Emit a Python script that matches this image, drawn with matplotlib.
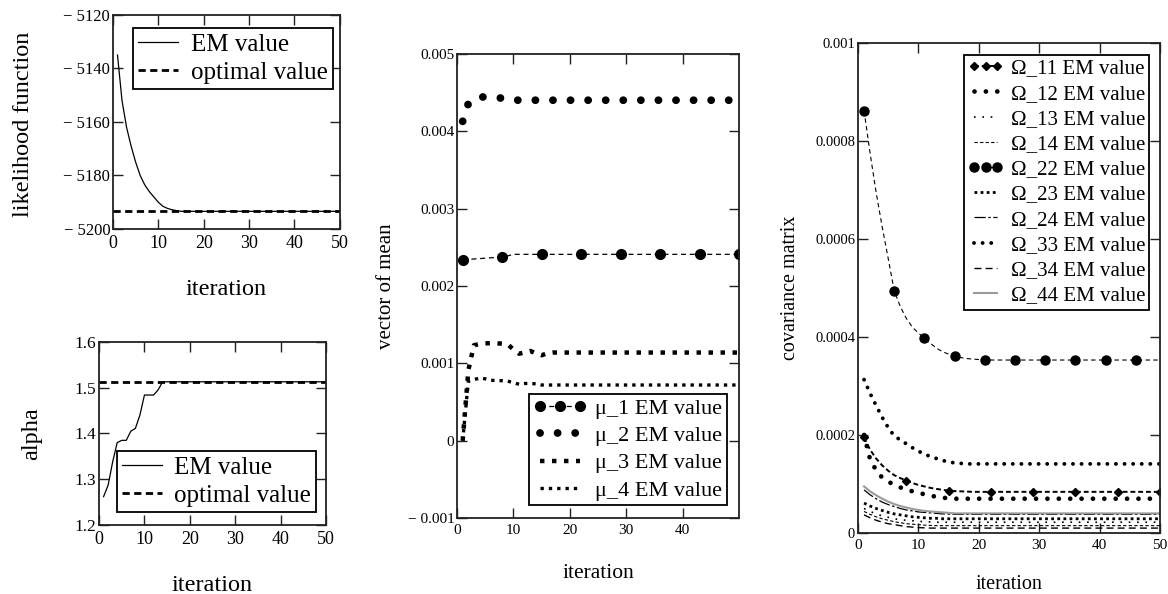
import matplotlib
matplotlib.use("Agg")
import matplotlib.pyplot as plt

plt.rcParams['font.family'] = ['Liberation Serif', 'DejaVu Serif']

# ---------------- data ----------------
iterations = list(range(1, 51))

likelihood_em = [
    -5135.0, -5152.0, -5162.0, -5169.0, -5175.0, -5180.0, -5183.5, -5186.0, -5188.0, -5190.0,
    -5191.5, -5192.3, -5192.8, -5193.1, -5193.4, -5193.4, -5193.4, -5193.4, -5193.4, -5193.4,
    -5193.4, -5193.4, -5193.4, -5193.4, -5193.4, -5193.4, -5193.4, -5193.4, -5193.4, -5193.4,
    -5193.4, -5193.4, -5193.4, -5193.4, -5193.4, -5193.4, -5193.4, -5193.4, -5193.4, -5193.4,
    -5193.4, -5193.4, -5193.4, -5193.4, -5193.4, -5193.4, -5193.4, -5193.4, -5193.4, -5193.4]
likelihood_opt = -5193.4

alpha_em = [
    1.262, 1.287, 1.338, 1.380, 1.385, 1.385, 1.405, 1.411, 1.440, 1.484,
    1.484, 1.484, 1.495, 1.513, 1.513, 1.513, 1.513, 1.513, 1.513, 1.513,
    1.513, 1.513, 1.513, 1.513, 1.513, 1.513, 1.513, 1.513, 1.513, 1.513,
    1.513, 1.513, 1.513, 1.513, 1.513, 1.513, 1.513, 1.513, 1.513, 1.513,
    1.513, 1.513, 1.513, 1.513, 1.513, 1.513, 1.513, 1.513, 1.513, 1.513]
alpha_opt = 1.513

mu1 = [
    2.340e-3, 2.345e-3, 2.350e-3, 2.355e-3, 2.360e-3, 2.365e-3, 2.370e-3, 2.374e-3, 2.390e-3, 2.410e-3,
    2.410e-3, 2.410e-3, 2.410e-3, 2.410e-3, 2.410e-3, 2.410e-3, 2.410e-3, 2.410e-3, 2.410e-3, 2.410e-3,
    2.410e-3, 2.410e-3, 2.410e-3, 2.410e-3, 2.410e-3, 2.410e-3, 2.410e-3, 2.410e-3, 2.410e-3, 2.410e-3,
    2.410e-3, 2.410e-3, 2.410e-3, 2.410e-3, 2.410e-3, 2.410e-3, 2.410e-3, 2.410e-3, 2.410e-3, 2.410e-3,
    2.410e-3, 2.410e-3, 2.410e-3, 2.410e-3, 2.410e-3, 2.410e-3, 2.410e-3, 2.410e-3, 2.410e-3, 2.410e-3]
mu2 = [
    4.130e-3, 4.360e-3, 4.420e-3, 4.445e-3, 4.445e-3, 4.440e-3, 4.435e-3, 4.430e-3, 4.415e-3, 4.405e-3,
    4.403e-3, 4.403e-3, 4.403e-3, 4.403e-3, 4.403e-3, 4.403e-3, 4.403e-3, 4.403e-3, 4.403e-3, 4.403e-3,
    4.403e-3, 4.403e-3, 4.403e-3, 4.403e-3, 4.403e-3, 4.403e-3, 4.403e-3, 4.403e-3, 4.403e-3, 4.403e-3,
    4.403e-3, 4.403e-3, 4.403e-3, 4.403e-3, 4.403e-3, 4.403e-3, 4.403e-3, 4.403e-3, 4.403e-3, 4.403e-3,
    4.403e-3, 4.403e-3, 4.403e-3, 4.403e-3, 4.403e-3, 4.403e-3, 4.403e-3, 4.403e-3, 4.403e-3, 4.403e-3]
mu3 = [
    0.0, 0.910e-3, 1.235e-3, 1.250e-3, 1.260e-3, 1.260e-3, 1.260e-3, 1.255e-3, 1.245e-3, 1.180e-3,
    1.125e-3, 1.140e-3, 1.160e-3, 1.130e-3, 1.105e-3, 1.130e-3, 1.140e-3, 1.140e-3, 1.140e-3, 1.140e-3,
    1.140e-3, 1.140e-3, 1.140e-3, 1.140e-3, 1.140e-3, 1.140e-3, 1.140e-3, 1.140e-3, 1.140e-3, 1.140e-3,
    1.140e-3, 1.140e-3, 1.140e-3, 1.140e-3, 1.140e-3, 1.140e-3, 1.140e-3, 1.140e-3, 1.140e-3, 1.140e-3,
    1.140e-3, 1.140e-3, 1.140e-3, 1.140e-3, 1.140e-3, 1.140e-3, 1.140e-3, 1.140e-3, 1.140e-3, 1.140e-3]
mu4 = [
    0.0, 0.770e-3, 0.790e-3, 0.810e-3, 0.800e-3, 0.780e-3, 0.780e-3, 0.775e-3, 0.770e-3, 0.750e-3,
    0.730e-3, 0.740e-3, 0.740e-3, 0.735e-3, 0.720e-3, 0.720e-3, 0.720e-3, 0.720e-3, 0.720e-3, 0.720e-3,
    0.720e-3, 0.720e-3, 0.720e-3, 0.720e-3, 0.720e-3, 0.720e-3, 0.720e-3, 0.720e-3, 0.720e-3, 0.720e-3,
    0.720e-3, 0.720e-3, 0.720e-3, 0.720e-3, 0.720e-3, 0.720e-3, 0.720e-3, 0.720e-3, 0.720e-3, 0.720e-3,
    0.720e-3, 0.720e-3, 0.720e-3, 0.720e-3, 0.720e-3, 0.720e-3, 0.720e-3, 0.720e-3, 0.720e-3, 0.720e-3]

cov11 = [
    1.95e-4, 1.70e-4, 1.52e-4, 1.38e-4, 1.27e-4, 1.18e-4, 1.12e-4, 1.07e-4, 1.02e-4, 0.98e-4,
    0.95e-4, 0.92e-4, 0.90e-4, 0.88e-4, 0.865e-4, 0.855e-4, 0.85e-4, 0.845e-4, 0.84e-4, 0.84e-4,
    0.84e-4, 0.84e-4, 0.84e-4, 0.84e-4, 0.84e-4, 0.84e-4, 0.84e-4, 0.84e-4, 0.84e-4, 0.84e-4,
    0.84e-4, 0.84e-4, 0.84e-4, 0.84e-4, 0.84e-4, 0.84e-4, 0.84e-4, 0.84e-4, 0.84e-4, 0.84e-4,
    0.84e-4, 0.84e-4, 0.84e-4, 0.84e-4, 0.84e-4, 0.84e-4, 0.84e-4, 0.84e-4, 0.84e-4, 0.84e-4]
cov12 = [
    2.00e-4, 1.50e-4, 1.28e-4, 1.13e-4, 1.05e-4, 0.98e-4, 0.93e-4, 0.89e-4, 0.85e-4, 0.82e-4,
    0.79e-4, 0.76e-4, 0.74e-4, 0.72e-4, 0.71e-4, 0.70e-4, 0.70e-4, 0.70e-4, 0.70e-4, 0.70e-4,
    0.70e-4, 0.70e-4, 0.70e-4, 0.70e-4, 0.70e-4, 0.70e-4, 0.70e-4, 0.70e-4, 0.70e-4, 0.70e-4,
    0.70e-4, 0.70e-4, 0.70e-4, 0.70e-4, 0.70e-4, 0.70e-4, 0.70e-4, 0.70e-4, 0.70e-4, 0.70e-4,
    0.70e-4, 0.70e-4, 0.70e-4, 0.70e-4, 0.70e-4, 0.70e-4, 0.70e-4, 0.70e-4, 0.70e-4, 0.70e-4]
cov13 = [
    0.50e-4, 0.44e-4, 0.39e-4, 0.35e-4, 0.32e-4, 0.29e-4, 0.27e-4, 0.26e-4, 0.25e-4, 0.24e-4,
    0.23e-4, 0.225e-4, 0.22e-4, 0.22e-4, 0.22e-4, 0.22e-4, 0.22e-4, 0.22e-4, 0.22e-4, 0.22e-4,
    0.22e-4, 0.22e-4, 0.22e-4, 0.22e-4, 0.22e-4, 0.22e-4, 0.22e-4, 0.22e-4, 0.22e-4, 0.22e-4,
    0.22e-4, 0.22e-4, 0.22e-4, 0.22e-4, 0.22e-4, 0.22e-4, 0.22e-4, 0.22e-4, 0.22e-4, 0.22e-4,
    0.22e-4, 0.22e-4, 0.22e-4, 0.22e-4, 0.22e-4, 0.22e-4, 0.22e-4, 0.22e-4, 0.22e-4, 0.22e-4]
cov14 = [
    0.44e-4, 0.38e-4, 0.33e-4, 0.29e-4, 0.26e-4, 0.23e-4, 0.21e-4, 0.19e-4, 0.18e-4, 0.17e-4,
    0.16e-4, 0.155e-4, 0.15e-4, 0.15e-4, 0.15e-4, 0.15e-4, 0.15e-4, 0.15e-4, 0.15e-4, 0.15e-4,
    0.15e-4, 0.15e-4, 0.15e-4, 0.15e-4, 0.15e-4, 0.15e-4, 0.15e-4, 0.15e-4, 0.15e-4, 0.15e-4,
    0.15e-4, 0.15e-4, 0.15e-4, 0.15e-4, 0.15e-4, 0.15e-4, 0.15e-4, 0.15e-4, 0.15e-4, 0.15e-4,
    0.15e-4, 0.15e-4, 0.15e-4, 0.15e-4, 0.15e-4, 0.15e-4, 0.15e-4, 0.15e-4, 0.15e-4, 0.15e-4]
cov22 = [
    8.62e-4, 7.75e-4, 6.95e-4, 6.25e-4, 5.60e-4, 4.94e-4, 4.62e-4, 4.38e-4, 4.20e-4, 4.08e-4,
    3.98e-4, 3.87e-4, 3.77e-4, 3.70e-4, 3.65e-4, 3.61e-4, 3.58e-4, 3.56e-4, 3.55e-4, 3.54e-4,
    3.53e-4, 3.53e-4, 3.53e-4, 3.53e-4, 3.53e-4, 3.53e-4, 3.53e-4, 3.53e-4, 3.53e-4, 3.53e-4,
    3.53e-4, 3.53e-4, 3.53e-4, 3.53e-4, 3.53e-4, 3.53e-4, 3.53e-4, 3.53e-4, 3.53e-4, 3.53e-4,
    3.53e-4, 3.53e-4, 3.53e-4, 3.53e-4, 3.53e-4, 3.53e-4, 3.53e-4, 3.53e-4, 3.53e-4, 3.53e-4]
cov23 = [
    0.61e-4, 0.55e-4, 0.50e-4, 0.46e-4, 0.42e-4, 0.39e-4, 0.37e-4, 0.35e-4, 0.33e-4, 0.32e-4,
    0.31e-4, 0.30e-4, 0.30e-4, 0.29e-4, 0.29e-4, 0.29e-4, 0.29e-4, 0.29e-4, 0.29e-4, 0.29e-4,
    0.29e-4, 0.29e-4, 0.29e-4, 0.29e-4, 0.29e-4, 0.29e-4, 0.29e-4, 0.29e-4, 0.29e-4, 0.29e-4,
    0.29e-4, 0.29e-4, 0.29e-4, 0.29e-4, 0.29e-4, 0.29e-4, 0.29e-4, 0.29e-4, 0.29e-4, 0.29e-4,
    0.29e-4, 0.29e-4, 0.29e-4, 0.29e-4, 0.29e-4, 0.29e-4, 0.29e-4, 0.29e-4, 0.29e-4, 0.29e-4]
cov24 = [
    0.88e-4, 0.78e-4, 0.70e-4, 0.63e-4, 0.58e-4, 0.54e-4, 0.50e-4, 0.47e-4, 0.45e-4, 0.43e-4,
    0.42e-4, 0.41e-4, 0.40e-4, 0.39e-4, 0.385e-4, 0.38e-4, 0.38e-4, 0.38e-4, 0.38e-4, 0.38e-4,
    0.38e-4, 0.38e-4, 0.38e-4, 0.38e-4, 0.38e-4, 0.38e-4, 0.38e-4, 0.38e-4, 0.38e-4, 0.38e-4,
    0.38e-4, 0.38e-4, 0.38e-4, 0.38e-4, 0.38e-4, 0.38e-4, 0.38e-4, 0.38e-4, 0.38e-4, 0.38e-4,
    0.38e-4, 0.38e-4, 0.38e-4, 0.38e-4, 0.38e-4, 0.38e-4, 0.38e-4, 0.38e-4, 0.38e-4, 0.38e-4]
cov33 = [
    3.13e-4, 2.85e-4, 2.60e-4, 2.36e-4, 2.15e-4, 1.98e-4, 1.90e-4, 1.82e-4, 1.74e-4, 1.67e-4,
    1.61e-4, 1.56e-4, 1.52e-4, 1.48e-4, 1.45e-4, 1.43e-4, 1.42e-4, 1.41e-4, 1.41e-4, 1.41e-4,
    1.41e-4, 1.41e-4, 1.41e-4, 1.41e-4, 1.41e-4, 1.41e-4, 1.41e-4, 1.41e-4, 1.41e-4, 1.41e-4,
    1.41e-4, 1.41e-4, 1.41e-4, 1.41e-4, 1.41e-4, 1.41e-4, 1.41e-4, 1.41e-4, 1.41e-4, 1.41e-4,
    1.41e-4, 1.41e-4, 1.41e-4, 1.41e-4, 1.41e-4, 1.41e-4, 1.41e-4, 1.41e-4, 1.41e-4, 1.41e-4]
cov34 = [
    0.37e-4, 0.31e-4, 0.26e-4, 0.22e-4, 0.19e-4, 0.17e-4, 0.15e-4, 0.13e-4, 0.12e-4, 0.11e-4,
    0.105e-4, 0.10e-4, 0.10e-4, 0.10e-4, 0.10e-4, 0.10e-4, 0.10e-4, 0.10e-4, 0.10e-4, 0.10e-4,
    0.10e-4, 0.10e-4, 0.10e-4, 0.10e-4, 0.10e-4, 0.10e-4, 0.10e-4, 0.10e-4, 0.10e-4, 0.10e-4,
    0.10e-4, 0.10e-4, 0.10e-4, 0.10e-4, 0.10e-4, 0.10e-4, 0.10e-4, 0.10e-4, 0.10e-4, 0.10e-4,
    0.10e-4, 0.10e-4, 0.10e-4, 0.10e-4, 0.10e-4, 0.10e-4, 0.10e-4, 0.10e-4, 0.10e-4, 0.10e-4]
cov44 = [
    0.95e-4, 0.85e-4, 0.77e-4, 0.70e-4, 0.64e-4, 0.59e-4, 0.55e-4, 0.52e-4, 0.49e-4, 0.47e-4,
    0.45e-4, 0.44e-4, 0.43e-4, 0.42e-4, 0.41e-4, 0.40e-4, 0.40e-4, 0.40e-4, 0.40e-4, 0.40e-4,
    0.40e-4, 0.40e-4, 0.40e-4, 0.40e-4, 0.40e-4, 0.40e-4, 0.40e-4, 0.40e-4, 0.40e-4, 0.40e-4,
    0.40e-4, 0.40e-4, 0.40e-4, 0.40e-4, 0.40e-4, 0.40e-4, 0.40e-4, 0.40e-4, 0.40e-4, 0.40e-4,
    0.40e-4, 0.40e-4, 0.40e-4, 0.40e-4, 0.40e-4, 0.40e-4, 0.40e-4, 0.40e-4, 0.40e-4, 0.40e-4]

lik_ticks = [-5200, -5180, -5160, -5140, -5120]
lik_ticklabels = ["\u2212 5200", "\u2212 5180", "\u2212 5160", "\u2212 5140", "\u2212 5120"]
alpha_ticks = [1.2, 1.3, 1.4, 1.5, 1.6]
alpha_ticklabels = ["1.2", "1.3", "1.4", "1.5", "1.6"]
mean_ticks = [-0.001, 0.0, 0.001, 0.002, 0.003, 0.004, 0.005]
mean_ticklabels = ["\u2212 0.001", "0", "0.001", "0.002", "0.003", "0.004", "0.005"]
cov_ticks = [0.0, 0.0002, 0.0004, 0.0006, 0.0008, 0.001]
cov_ticklabels = ["0", "0.0002", "0.0004", "0.0006", "0.0008", "0.001"]
iter_ticks_full = [0, 10, 20, 30, 40, 50]
iter_ticks_mid = [0, 10, 20, 30, 40]

# ---------------- figure ----------------
fig = plt.figure(figsize=(11.68, 5.94), dpi=100)
ax1 = fig.add_axes([0.0967, 0.6145, 0.1943, 0.3603])
ax2 = fig.add_axes([0.0848, 0.1162, 0.1943, 0.3081])
ax3 = fig.add_axes([0.3913, 0.1279, 0.2414, 0.7811])
ax4 = fig.add_axes([0.7346, 0.1027, 0.2586, 0.8249])


def style_axes(ax, ysize, xsize):
    for sp in ax.spines.values():
        sp.set_linewidth(1.3)
        sp.set_color('#222222')
    ax.tick_params(direction='in', top=True, right=True, length=7, width=1.0,
                   color='#222222')
    ax.tick_params(axis='y', labelsize=ysize, pad=2)
    ax.tick_params(axis='x', labelsize=xsize, pad=4)


def style_legend(leg):
    fr = leg.get_frame()
    fr.set_edgecolor('black')
    fr.set_linewidth(1.3)
    fr.set_alpha(1.0)


dash_opt = (0, (2.6, 1.6))
small_leg = dict(fontsize=18, fancybox=False, borderpad=0.2, labelspacing=0.22,
                 handlelength=1.6, handletextpad=0.5, borderaxespad=0.0)

# ---- panel 1: likelihood ----
ax1.plot(iterations, likelihood_em, color='black', lw=0.9, label='EM value')
ax1.axhline(likelihood_opt, color='black', lw=2.0, ls=dash_opt, label='optimal value')
ax1.set_xlim(0, 50)
ax1.set_ylim(-5200, -5120)
ax1.set_xticks(iter_ticks_full)
ax1.set_yticks(lik_ticks)
ax1.set_yticklabels(lik_ticklabels)
style_axes(ax1, 12, 13)
ax1.set_xlabel('iteration', fontsize=17.5)
ax1.xaxis.set_label_coords(0.5, -0.285)
ax1.xaxis.label.set_va('center')
ax1.set_ylabel('likelihood function', fontsize=17.5)
ax1.yaxis.set_label_coords(-0.395, 0.49)
ax1.yaxis.label.set_va('center')
leg1 = ax1.legend(loc='upper right', bbox_to_anchor=(0.969, 0.939), **small_leg)
style_legend(leg1)

# ---- panel 2: alpha ----
ax2.plot(iterations, alpha_em, color='black', lw=0.9, label='EM value')
ax2.axhline(alpha_opt, color='black', lw=2.0, ls=dash_opt, label='optimal value')
ax2.set_xlim(0, 50)
ax2.set_ylim(1.2, 1.6)
ax2.set_xticks(iter_ticks_full)
ax2.set_yticks(alpha_ticks)
ax2.set_yticklabels(alpha_ticklabels)
style_axes(ax2, 12.5, 13)
ax2.set_xlabel('iteration', fontsize=17.5)
ax2.xaxis.set_label_coords(0.5, -0.328)
ax2.xaxis.label.set_va('center')
ax2.set_ylabel('alpha', fontsize=17.5)
ax2.yaxis.set_label_coords(-0.295, 0.5)
ax2.yaxis.label.set_va('center')
leg2 = ax2.legend(loc='lower left', bbox_to_anchor=(0.079, 0.071), **small_leg)
style_legend(leg2)

# ---- panel 3: vector of mean ----
ax3.plot(iterations, mu1, color='black', lw=0.9, ls=(0, (4, 3)), marker='o', ms=7,
         markevery=7, label='\u03bc_1 EM value')
ax3.plot(iterations, mu2, color='black', lw=5.6, ls=(0, (0.01, 2.25)),
         dash_capstyle='round', label='\u03bc_2 EM value')
ax3.plot(iterations, mu3, color='black', lw=3.2, ls=(0, (1.0, 1.7)),
         dash_capstyle='butt', label='\u03bc_3 EM value')
ax3.plot(iterations, mu4, color='black', lw=2.4, ls=(0, (1.0, 1.5)),
         dash_capstyle='butt', label='\u03bc_4 EM value')
ax3.set_xlim(0, 50)
ax3.set_ylim(-0.001, 0.005)
ax3.set_xticks(iter_ticks_mid)
ax3.set_yticks(mean_ticks)
ax3.set_yticklabels(mean_ticklabels)
style_axes(ax3, 11, 11)
ax3.set_xlabel('iteration', fontsize=15.5)
ax3.xaxis.set_label_coords(0.5, -0.1185)
ax3.xaxis.label.set_va('center')
ax3.set_ylabel('vector of mean', fontsize=15)
ax3.yaxis.set_label_coords(-0.25, 0.5)
ax3.yaxis.label.set_va('center')
leg3 = ax3.legend(loc='lower right', bbox_to_anchor=(0.957, 0.028), fontsize=16,
                  fancybox=False, borderpad=0.2, labelspacing=0.3, handlelength=2.4,
                  handletextpad=0.4, borderaxespad=0.0, numpoints=3)
style_legend(leg3)

# ---- panel 4: covariance matrix ----
ax4.plot(iterations, cov11, color='black', lw=1.4, ls=(0, (2.5, 1.5)), marker='D', ms=4,
         markevery=7, label='\u03a9_11 EM value')
ax4.plot(iterations, cov12, color='black', lw=3.4, ls=(0, (0.01, 2.4)),
         dash_capstyle='round', label='\u03a9_12 EM value')
ax4.plot(iterations, cov13, color='black', lw=1.2, ls=(0, (1, 4)),
         label='\u03a9_13 EM value')
ax4.plot(iterations, cov14, color='black', lw=0.8, ls=(0, (3, 2)),
         label='\u03a9_14 EM value')
ax4.plot(iterations, cov22, color='black', lw=0.8, ls=(0, (4, 3)), marker='o', ms=6.5,
         markevery=5, label='\u03a9_22 EM value')
ax4.plot(iterations, cov23, color='black', lw=2.0, ls=(0, (1, 1.2)),
         label='\u03a9_23 EM value')
ax4.plot(iterations, cov24, color='black', lw=0.9, ls=(0, (9, 2, 2, 2)),
         label='\u03a9_24 EM value')
ax4.plot(iterations, cov33, color='black', lw=2.8, ls=(0, (0.01, 2.2)),
         dash_capstyle='round', label='\u03a9_33 EM value')
ax4.plot(iterations, cov34, color='black', lw=1.0, ls=(0, (5, 3)),
         label='\u03a9_34 EM value')
ax4.plot(iterations, cov44, color='#9a9a9a', lw=1.5, ls='-',
         label='\u03a9_44 EM value')
ax4.set_xlim(0, 50)
ax4.set_ylim(0, 0.001)
ax4.set_xticks(iter_ticks_full)
ax4.set_yticks(cov_ticks)
ax4.set_yticklabels(cov_ticklabels)
style_axes(ax4, 10.5, 11)
ax4.set_xlabel('iteration', fontsize=14.5)
ax4.xaxis.set_label_coords(0.5, -0.106)
ax4.xaxis.label.set_va('center')
ax4.set_ylabel('covariance matrix', fontsize=14.5)
ax4.yaxis.set_label_coords(-0.222, 0.5)
ax4.yaxis.label.set_va('center')
leg4 = ax4.legend(loc='upper right', bbox_to_anchor=(0.964, 0.976), fontsize=15,
                  fancybox=False, borderpad=0.2, labelspacing=0.27, handlelength=1.7,
                  handletextpad=0.35, borderaxespad=0.0, numpoints=3)
style_legend(leg4)

fig.savefig('out.png', dpi=100)
